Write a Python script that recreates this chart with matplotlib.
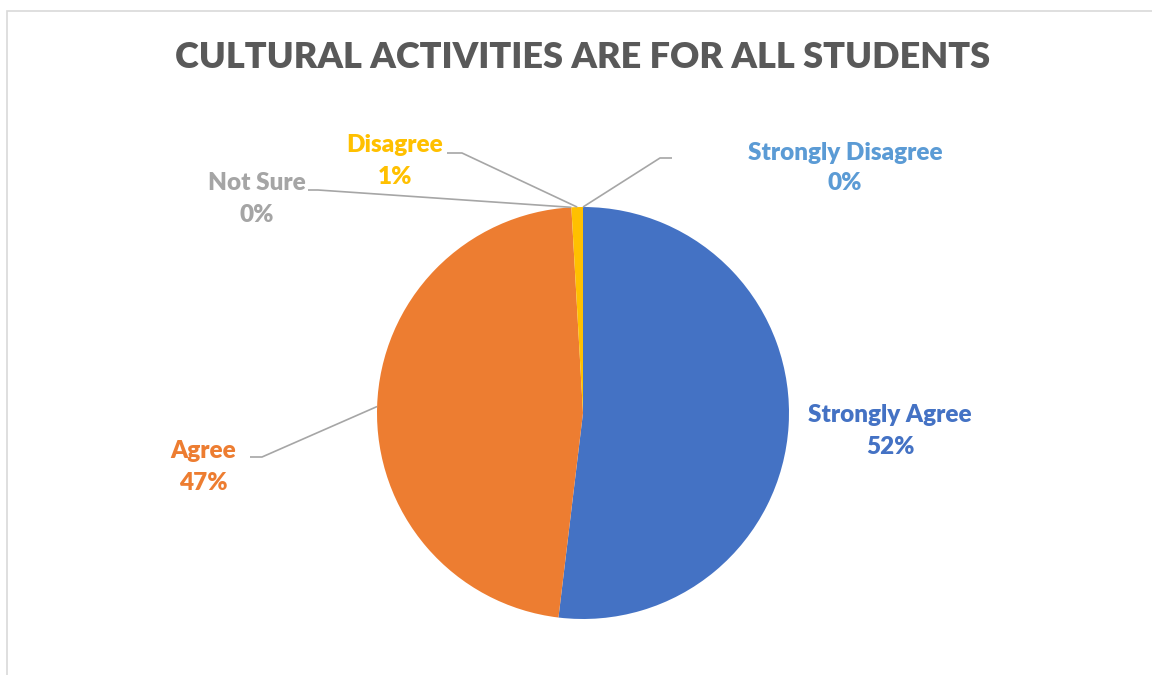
import numpy as np
import matplotlib
matplotlib.use("Agg")
import matplotlib.pyplot as plt
from matplotlib.patches import Rectangle

title = "CULTURAL ACTIVITIES ARE FOR ALL STUDENTS"
categories = ["Strongly Agree", "Agree", "Not Sure", "Disagree", "Strongly Disagree"]
values = [51.9, 47.2, 0.0, 0.9, 0.0]
pct_labels = ["52%", "47%", "0%", "1%", "0%"]
colors = ["#4472C4", "#ED7D31", "#A5A5A5", "#FFC000", "#5B9BD5"]

W, H = 1152, 675
fig = plt.figure(figsize=(W / 100, H / 100), dpi=100)
ax = fig.add_axes([0, 0, 1, 1])
ax.set_xlim(0, W)
ax.set_ylim(0, H)
ax.axis("off")

# chart border
ax.add_patch(Rectangle((6.5, -5), W, H - 10.5 + 5, fill=False, edgecolor="#D9D9D9", lw=1.2))

cx, cy, r = 583, H - 413, 206
wedges, _ = ax.pie(values, colors=colors, startangle=90, counterclock=False,
                   center=(cx, cy), radius=r, frame=True,
                   wedgeprops=dict(linewidth=0))
ax.set_xlim(0, W)
ax.set_ylim(0, H)
ax.set_aspect("equal")
ax.axis("off")

fs = 17.5
font = "Lato"
ax.text(W / 2 + 7, H - 57, title, ha="center", va="center", fontsize=26,
        fontweight="heavy", color="#595959", family=font)

def anchor(w):
    th = np.deg2rad((w.theta1 + w.theta2) / 2)
    return cx + r * np.cos(th), cy + r * np.sin(th)

# label positions (pixel coords, from top) and leader elbows
layout = {
    "Strongly Agree": dict(pos=(890, 431), line=None),
    "Agree": dict(pos=(203, 467), line=[(250, 457), (262, 457)]),
    "Not Sure": dict(pos=(257, 199), line=[(308, 190), (318, 190)]),
    "Disagree": dict(pos=(395, 161), line=[(447, 153), (462, 153)]),
    "Strongly Disagree": dict(pos=(845, 168), line=[(672, 158), (660, 158)]),
}

for cat, pl, col, w in zip(categories, pct_labels, colors, wedges):
    L = layout[cat]
    x, y = L["pos"]
    ax.text(x, H - y, f"{cat}\n{pl}", ha="center", va="center", fontsize=fs,
            fontweight="heavy", color=col, family=font, linespacing=1.5)
    if L["line"]:
        ax_, ay_ = anchor(w)
        pts = [(px, H - py) for px, py in L["line"]] + [(ax_, ay_)]
        xs, ys = zip(*pts)
        ax.plot(xs, ys, color="#A6A6A6", lw=1.2, solid_capstyle="butt")

fig.savefig("out.png", dpi=100, facecolor="white")
